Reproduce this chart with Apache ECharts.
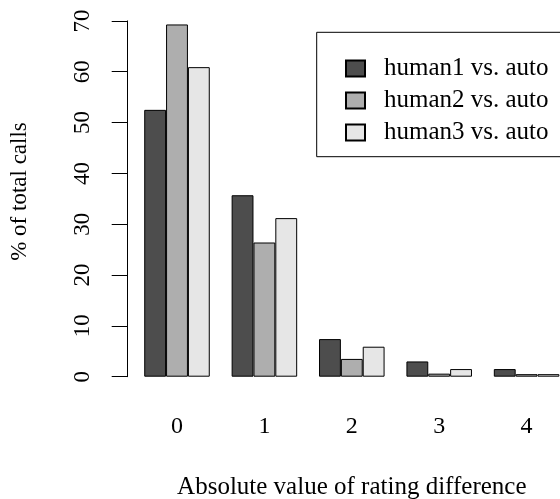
<!DOCTYPE html>
<html>
<head>
<meta charset="utf-8">
<script src="https://cdn.jsdelivr.net/npm/echarts@6/dist/echarts.min.js"></script>
<style>html,body{margin:0;padding:0;background:#fff;}#c{width:560px;height:499px;}</style>
</head>
<body>
<div id="c"></div>
<script>
var categories = ['0', '1', '2', '3', '4'];
var seriesNames = ['human1 vs. auto', 'human2 vs. auto', 'human3 vs. auto'];
var human1 = [52.5, 35.7, 7.4, 3.0, 1.5];
var human2 = [69.3, 26.4, 3.5, 0.6, 0.5];
var human3 = [60.9, 31.2, 5.9, 1.5, 0.5];
var yTicks = [0, 10, 20, 30, 40, 50, 60, 70];
var colors = ['#4D4D4D', '#AEAEAE', '#E6E6E6'];

var FONT = 'Liberation Serif, Times New Roman, serif';
var chart = echarts.init(document.getElementById('c'), null, {renderer: 'canvas'});
var values = [human1, human2, human3];
var series = seriesNames.map(function (n, i) {
  return {
    name: n, type: 'bar', data: values[i],
    barWidth: 21.85, barGap: '0%',
    itemStyle: {color: colors[i], borderColor: '#000', borderWidth: 1},
    animation: false
  };
});
chart.setOption({
  animation: false,
  textStyle: {fontFamily: FONT, color: '#000'},
  grid: {left: 133.3, top: 20.9, width: 437, height: 355.8, containLabel: false, outerBoundsMode: 'none'},
  xAxis: {
    type: 'category', data: categories,
    axisLine: {show: false}, axisTick: {show: false},
    axisLabel: {fontSize: 24, color: '#000', fontFamily: FONT, margin: 38},
    name: 'Absolute value of rating difference', nameLocation: 'middle', nameGap: 98,
    nameTextStyle: {fontSize: 25, color: '#000', fontFamily: FONT}
  },
  yAxis: {
    type: 'value', min: yTicks[0], max: yTicks[yTicks.length - 1], interval: 10,
    offset: 5.6,
    axisLine: {show: true, lineStyle: {color: '#000', width: 1}},
    axisTick: {show: true, length: 16, lineStyle: {color: '#000', width: 1}},
    splitLine: {show: false},
    axisLabel: {fontSize: 23, color: '#000', fontFamily: FONT, rotate: 90, margin: 33}
  },
  legend: {
    orient: 'vertical', left: 340, top: 51,
    icon: 'rect',
    itemWidth: 19, itemHeight: 16, itemGap: 7,
    textStyle: {fontSize: 25, color: '#000', fontFamily: FONT, padding: [0, 0, 0, 14]},
    data: seriesNames
  },
  graphic: [
    {type: 'rect', shape: {x: 316.7, y: 32.3, width: 260, height: 124.4},
     style: {fill: 'none', stroke: '#000', lineWidth: 1}, silent: true},
    {type: 'text', x: 20, y: 191.5, rotation: Math.PI / 2,
     style: {text: '% of total calls', fontSize: 23, fontFamily: FONT, fill: '#000',
             textAlign: 'center', textVerticalAlign: 'middle'}}
  ],
  series: series
});
</script>
</body>
</html>
